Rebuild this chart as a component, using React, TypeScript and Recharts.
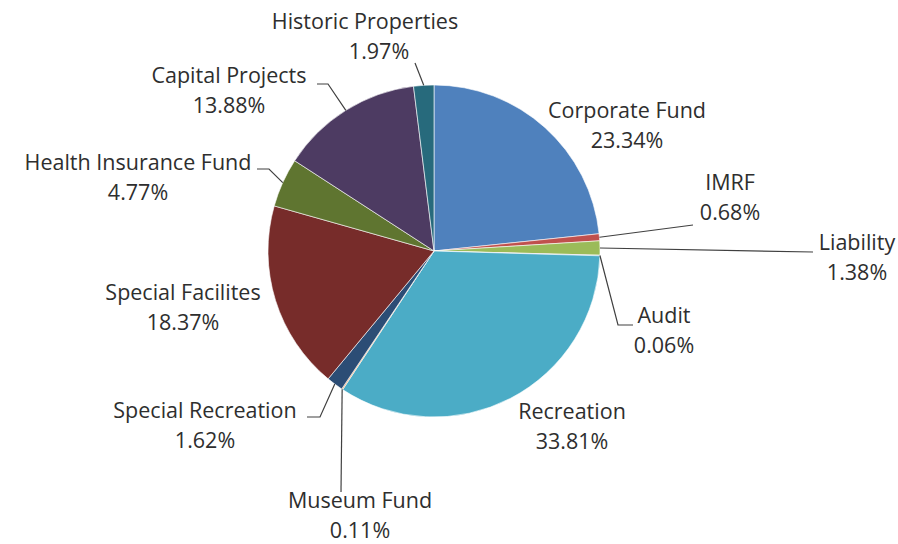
import { PieChart, Pie, Cell } from 'recharts'

const FUNDS = [
  'Corporate Fund', 'IMRF', 'Liability', 'Audit', 'Recreation', 'Museum Fund',
  'Special Recreation', 'Special Facilites', 'Health Insurance Fund', 'Capital Projects', 'Historic Properties',
]
const SHARES = [23.34, 0.68, 1.38, 0.06, 33.81, 0.11, 1.62, 18.37, 4.77, 13.88, 1.97]
const COLORS = [
  '#4F81BD', '#C0504D', '#9BBB59', '#8064A2', '#4BACC6', '#F79646',
  '#2C4D75', '#772C2A', '#5F7530', '#4D3B62', '#276A7C',
]

const data = FUNDS.map((name, i) => ({ name, value: SHARES[i] }))

// label placement relative to the pie centre (Excel labels were dragged by hand)
// tx/ty = centre of the name line, px = optional x shift for the percent line, lead = elbow points of the leader
type Layout = { tx: number; ty: number; px?: number; lead?: [number, number][] }
const LAYOUT: Record<string, Layout> = {
  'Corporate Fund': { tx: 193, ty: -138 },
  'IMRF': { tx: 296, ty: -66, lead: [[259, -26]] },
  'Liability': { tx: 423, ty: -6, lead: [[379, 1]] },
  'Audit': { tx: 230, ty: 67, lead: [[199, 74], [184, 74]] },
  'Recreation': { tx: 138, ty: 163 },
  'Museum Fund': { tx: -74, ty: 252, lead: [[-93, 241]] },
  'Special Recreation': { tx: -229, ty: 162, lead: [[-127, 166], [-114, 166]] },
  'Special Facilites': { tx: -251, ty: 44 },
  'Health Insurance Fund': { tx: -296, ty: -86, lead: [[-177, -82], [-165, -82]] },
  'Capital Projects': { tx: -205, ty: -173, lead: [[-117, -167], [-106, -167]] },
  'Historic Properties': { tx: -69, ty: -227, px: 14, lead: [[-19, -188]] },
}

const RAD = Math.PI / 180
const TEXT = '#2e2e2e'
const FS = 21.5
const SHIFT = -4 // Open Sans sits a little low with 'central'

function renderLabel(props: any) {
  const { cx, cy, midAngle, outerRadius, name, value } = props
  const l = LAYOUT[name]
  if (!l) return null
  const ex = cx + outerRadius * Math.cos(-midAngle * RAD)
  const ey = cy + outerRadius * Math.sin(-midAngle * RAD)
  const pts = l.lead ? [...l.lead.map(([dx, dy]) => `${cx + dx},${cy + dy}`), `${ex},${ey}`] : []
  return (
    <g>
      {pts.length > 0 && <polyline points={pts.join(' ')} fill="none" stroke="#404040" strokeWidth={1.2} />}
      <text x={cx + l.tx} y={cy + l.ty + SHIFT} textAnchor="middle" dominantBaseline="central" fill={TEXT} fontSize={FS}>
        {name}
      </text>
      <text x={cx + l.tx + (l.px || 0)} y={cy + l.ty + 30 + SHIFT} textAnchor="middle" dominantBaseline="central" fill={TEXT} fontSize={FS}>
        {value.toFixed(2)}%
      </text>
    </g>
  )
}

export default function App() {
  return (
    <div style={{ position: 'absolute', left: 0, top: 0, width: 898, height: 544, background: '#fff', fontFamily: '"Open Sans", sans-serif' }}>
      <PieChart width={898} height={544}>
        <Pie
          data={data}
          dataKey="value"
          nameKey="name"
          cx={429}
          cy={246}
          outerRadius={166}
          startAngle={90}
          endAngle={-270}
          stroke="#ffffff"
          strokeWidth={0.6}
          label={renderLabel}
          labelLine={false}
          isAnimationActive={false}
        >
          {data.map((d, i) => <Cell key={d.name} fill={COLORS[i]} />)}
        </Pie>
      </PieChart>
    </div>
  )
}
